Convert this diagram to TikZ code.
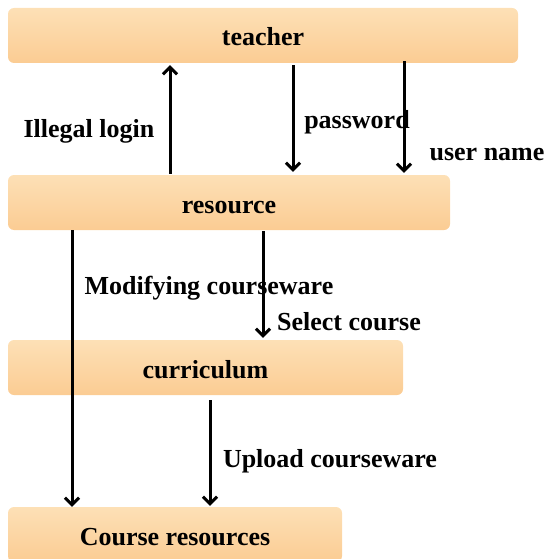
\documentclass[tikz,border=0pt]{standalone}
\usepackage{fontspec}
\setmainfont{Liberation Serif}
\usetikzlibrary{arrows.meta}
\definecolor{boxtop}{RGB}{253,224,182}
\definecolor{boxbot}{RGB}{251,204,147}
\tikzset{
  box/.style={rectangle, rounded corners=6pt, top color=boxtop, bottom color=boxbot, draw=none,
    font=\fontsize{26}{30}\selectfont\bfseries, inner sep=0pt, text height=21pt, text depth=0pt},
  lbl/.style={font=\fontsize{26}{30}\selectfont\bfseries, inner sep=0pt},
  arr/.style={line width=3pt, -{Straight Barb[length=7pt,width=14pt,line width=3pt]}}
}
\begin{document}
\begin{tikzpicture}[x=1pt,y=-1pt]
\useasboundingbox (0,0) rectangle (544,559);
\clip (0,0) rectangle (544,559);
\node[box, minimum width=510pt, minimum height=55pt] (teacher) at (263,35.5) {teacher};
\node[box, minimum width=442pt, minimum height=55pt] (resource) at (229,202.5) {resource};
\node[box, minimum width=395pt, minimum height=55pt] (curriculum) at (205.5,367.5) {curriculum};
\node[box, minimum width=334pt, minimum height=55pt] (courseres) at (175,534.5) {Course resources};
\coordinate (xa) at (170,0);
\coordinate (xb) at (293,0);
\coordinate (xc) at (404,0);
\coordinate (xd) at (72,0);
\coordinate (xe) at (263,0);
\coordinate (xf) at (210,0);
\node[lbl] (l1) at (89,131.5) {Illegal login};
\node[lbl] (l2) at (357,122.5) {password};
\node[lbl] (l3) at (487,154.5) {user name};
\node[lbl] (l4) at (209,288.5) {Modifying courseware};
\node[lbl] (l5) at (349,321.5) {Select course};
\node[lbl] (l6) at (330,461.5) {Upload courseware};
\draw[arr, shorten <=1pt, shorten >=2pt] (resource.north -| xa) -- (teacher.south -| xa);
\draw[arr, shorten <=2pt, shorten >=3pt] (teacher.south -| xb) -- (resource.north -| xb);
\draw[arr, shorten <=-2pt, shorten >=2pt] (teacher.south -| xc) -- (resource.north -| xc);
\draw[arr, shorten <=0pt, shorten >=0pt] (resource.south -| xd) -- (courseres.north -| xd);
\draw[arr, shorten <=1pt, shorten >=2pt] (resource.south -| xe) -- (curriculum.north -| xe);
\draw[arr, shorten <=5pt, shorten >=1pt] (curriculum.south -| xf) -- (courseres.north -| xf);
\end{tikzpicture}
\end{document}
